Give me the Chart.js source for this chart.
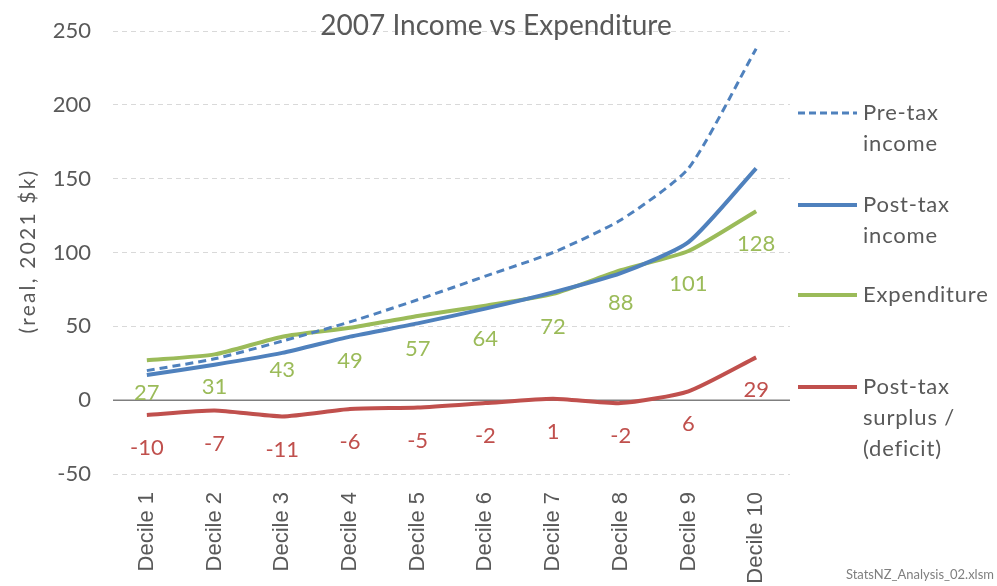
<!DOCTYPE html>
<html>
<head>
<meta charset="utf-8">
<script src="https://cdn.jsdelivr.net/npm/chart.js@4/dist/chart.umd.min.js"></script>
<style>
html,body{margin:0;padding:0;background:#fff;}
#wrap{width:997px;height:586px;position:relative;}
</style>
</head>
<body>
<div id="wrap"><canvas id="c" width="997" height="586"></canvas></div>
<script>
const categories = ["Decile 1","Decile 2","Decile 3","Decile 4","Decile 5","Decile 6","Decile 7","Decile 8","Decile 9","Decile 10"];
const preTaxIncome = [20, 28, 40, 53, 68, 84, 100, 122, 157, 238];
const postTaxIncome = [17, 24, 32, 43, 52, 62, 73, 86, 107, 157];
const expenditure = [27, 31, 43, 49, 57, 64, 72, 88, 101, 128];
const surplus = [-10, -7, -11, -6, -5, -2, 1, -2, 6, 29];
const yTicks = [-50, 0, 50, 100, 150, 200, 250];

const FONT = "Lato, 'Open sans', sans-serif";
const AXFONT = "'Liberation Sans', Arial, sans-serif";
const GREY = '#595959';
const BLUE = '#4F81BD';
const GREEN = '#9BBB59';
const RED = '#C0504D';

const labelPlugin = {
  id: 'extras',
  beforeDatasetsDraw(chart) {
    const ctx = chart.ctx, y = chart.scales.y, a = chart.chartArea;
    const py = y.getPixelForValue(0);
    ctx.save();
    ctx.strokeStyle = '#7f7f7f';
    ctx.lineWidth = 1.5;
    ctx.beginPath();
    ctx.moveTo(a.left, py); ctx.lineTo(a.right, py);
    ctx.stroke();
    ctx.restore();
  },
  afterDraw(chart) {
    const ctx = chart.ctx;
    ctx.save();
    // data labels for expenditure & surplus
    ctx.font = '22px ' + FONT;
    ctx.textAlign = 'center';
    ctx.textBaseline = 'middle';
    [[2, GREEN], [3, RED]].forEach(([di, col]) => {
      const meta = chart.getDatasetMeta(di);
      const vals = chart.data.datasets[di].data;
      meta.data.forEach((pt, i) => {
        ctx.fillStyle = col;
        ctx.fillText(String(vals[i]), pt.x, pt.y + 33);
      });
    });
    // title
    ctx.fillStyle = GREY;
    ctx.font = '28px ' + FONT;
    ctx.fillText('2007 Income vs Expenditure', 496, 26);
    // y axis title
    ctx.save();
    ctx.translate(28, 251);
    ctx.rotate(-Math.PI / 2);
    ctx.font = '21px ' + FONT;
    ctx.letterSpacing = '2.2px';
    ctx.fillText('(real, 2021 $k)', 0, 0);
    ctx.restore();
    // legend
    const items = [
      {lines: ['Pre-tax', 'income'], y: 113, color: BLUE, dash: [7, 4], w: 3},
      {lines: ['Post-tax', 'income'], y: 205, color: BLUE, dash: [], w: 4},
      {lines: ['Expenditure'], y: 295, color: GREEN, dash: [], w: 4},
      {lines: ['Post-tax', 'surplus /', '(deficit)'], y: 387, color: RED, dash: [], w: 4}
    ];
    ctx.font = '22px ' + FONT;
    ctx.letterSpacing = '0.8px';
    ctx.textAlign = 'left';
    items.forEach(it => {
      ctx.strokeStyle = it.color;
      ctx.lineWidth = it.w;
      ctx.setLineDash(it.dash);
      ctx.beginPath();
      ctx.moveTo(798, it.y); ctx.lineTo(857, it.y);
      ctx.stroke();
      ctx.setLineDash([]);
      ctx.fillStyle = GREY;
      it.lines.forEach((t, k) => ctx.fillText(t, 863, it.y + k * 31));
    });
    ctx.letterSpacing = '0px';
    // watermark
    ctx.font = '13px ' + FONT;
    ctx.fillStyle = '#7f7f7f';
    ctx.textAlign = 'right';
    ctx.fillText('StatsNZ_Analysis_02.xlsm', 994, 575);
    ctx.restore();
  }
};

new Chart(document.getElementById('c'), {
  type: 'line',
  data: {
    labels: categories,
    datasets: [
      {label: 'Pre-tax income', data: preTaxIncome, borderColor: BLUE, borderWidth: 3, borderDash: [8, 5], pointRadius: 0, tension: 0.2, fill: false},
      {label: 'Post-tax income', data: postTaxIncome, borderColor: BLUE, borderWidth: 4, pointRadius: 0, tension: 0.2, fill: false},
      {label: 'Expenditure', data: expenditure, borderColor: GREEN, borderWidth: 4, pointRadius: 0, tension: 0.2, fill: false},
      {label: 'Post-tax surplus / (deficit)', data: surplus, borderColor: RED, borderWidth: 4, pointRadius: 0, tension: 0.2, fill: false}
    ]
  },
  options: {
    responsive: false,
    animation: false,
    layout: {padding: {top: 31, right: 207, left: 0, bottom: 0}},
    plugins: {legend: {display: false}, title: {display: false}, tooltip: {enabled: false}},
    scales: {
      x: {
        offset: true,
        grid: {display: false, drawTicks: false},
        border: {display: false},
        ticks: {color: GREY, font: {family: AXFONT, size: 22}, minRotation: 90, maxRotation: 90, padding: 18, autoSkip: false},
        afterFit(s) { s.height = 112; s.paddingLeft = 0; s.paddingRight = 0; s.paddingTop = 0; s.paddingBottom = 0; }
      },
      y: {
        min: -50, max: 250,
        afterBuildTicks(s) { s.ticks = yTicks.map(v => ({value: v})); },
        grid: {color: '#d9d9d9', lineWidth: 1, drawTicks: false},
        border: {display: false, dash: [5, 4]},
        ticks: {color: GREY, font: {family: FONT, size: 22}, padding: 22},
        title: {display: false},
        afterFit(s) { s.width = 113; s.paddingTop = 0; s.paddingBottom = 0; }
      }
    }
  },
  plugins: [labelPlugin]
});
</script>
</body>
</html>
